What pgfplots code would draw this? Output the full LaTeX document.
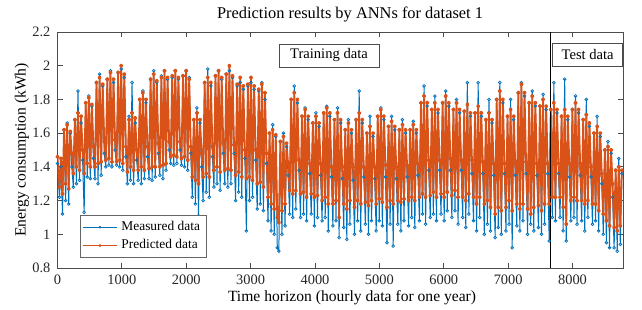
\documentclass[border=0pt]{standalone}
\usepackage{pgfplots}
\pgfplotsset{compat=1.18}
\usepackage{pgfplotstable}
\usepackage{fontspec}
\setmainfont{Liberation Serif}
\definecolor{mblue}{rgb}{0,0.447,0.741}
\definecolor{morange}{rgb}{0.85,0.325,0.098}
\pgfplotstableread{
t m p
0 1.42 1.46
30 1.22 1.28
54 1.40 1.45
78 1.12 1.24
102 1.62 1.62
126 1.20 1.30
150 1.66 1.65
174 1.18 1.27
198 1.60 1.61
222 1.40 1.48
246 1.28 1.36
270 1.68 1.68
294 1.30 1.40
318 1.85 1.72
342 1.32 1.38
366 1.66 1.70
390 1.44 1.50
414 1.13 1.36
438 1.78 1.78
462 1.34 1.42
486 1.82 1.81
510 1.33 1.40
534 1.76 1.77
558 1.45 1.52
582 1.33 1.40
606 1.90 1.90
630 1.30 1.42
654 1.95 1.93
678 1.35 1.43
702 1.88 1.89
726 1.48 1.55
750 1.40 1.44
774 1.92 1.92
798 1.41 1.45
822 1.97 1.96
846 1.40 1.43
870 1.90 1.92
894 1.50 1.56
918 1.41 1.43
942 1.96 1.96
966 1.40 1.44
990 1.98 2.00
1014 1.38 1.42
1038 1.93 1.95
1062 1.46 1.52
1086 1.30 1.37
1110 1.70 1.68
1134 1.32 1.40
1158 1.90 1.72
1182 1.30 1.38
1206 1.66 1.69
1230 1.44 1.50
1254 1.32 1.38
1278 1.80 1.80
1302 1.30 1.40
1326 1.85 1.84
1350 1.33 1.38
1374 1.78 1.80
1398 1.46 1.52
1422 1.33 1.39
1446 1.92 1.92
1470 1.32 1.40
1494 1.97 1.95
1518 1.34 1.40
1542 1.90 1.91
1566 1.48 1.54
1590 1.35 1.40
1614 1.94 1.93
1638 1.33 1.41
1662 1.97 1.97
1686 1.38 1.42
1710 1.92 1.93
1734 1.50 1.55
1758 1.42 1.46
1782 1.93 1.94
1806 1.41 1.47
1830 1.97 1.97
1854 1.42 1.46
1878 1.92 1.93
1902 1.50 1.55
1926 1.41 1.45
1950 1.94 1.94
1974 1.40 1.46
1998 1.97 1.97
2022 1.38 1.44
2046 1.93 1.92
2070 1.48 1.52
2094 1.22 1.34
2118 1.68 1.68
2142 1.18 1.32
2166 1.75 1.72
2190 1.11 1.30
2214 1.66 1.68
2238 1.40 1.48
2262 1.20 1.34
2286 1.90 1.90
2310 1.25 1.36
2334 1.98 1.93
2358 1.22 1.34
2382 1.88 1.90
2406 1.46 1.52
2430 1.28 1.38
2454 1.94 1.94
2478 1.30 1.40
2502 1.97 1.97
2526 1.26 1.37
2550 1.92 1.93
2574 1.48 1.54
2598 1.30 1.38
2622 1.95 1.95
2646 1.28 1.39
2670 1.97 2.00
2694 1.30 1.38
2718 1.93 1.94
2742 1.48 1.53
2766 1.20 1.35
2790 1.88 1.89
2814 1.25 1.37
2838 1.90 1.93
2862 1.22 1.34
2886 1.86 1.88
2910 1.45 1.50
2934 1.02 1.33
2958 1.88 1.89
2982 1.20 1.34
3006 1.90 1.93
3030 1.22 1.32
3054 1.86 1.88
3078 1.44 1.50
3102 1.15 1.30
3126 1.85 1.86
3150 1.18 1.31
3174 1.90 1.89
3198 1.14 1.28
3222 1.80 1.84
3246 1.42 1.48
3270 1.08 1.22
3294 1.60 1.60
3318 1.02 1.18
3342 1.65 1.62
3366 1.00 1.15
3390 1.58 1.59
3414 0.92 1.10
3438 0.90 1.07
3462 1.55 1.55
3486 1.00 1.14
3510 1.60 1.58
3534 1.05 1.18
3558 1.52 1.54
3582 1.35 1.42
3606 1.12 1.26
3630 1.80 1.80
3654 1.10 1.24
3678 1.88 1.84
3702 1.15 1.26
3726 1.78 1.80
3750 1.38 1.44
3774 1.10 1.24
3798 1.70 1.70
3822 1.12 1.25
3846 1.75 1.74
3870 1.08 1.22
3894 1.68 1.70
3918 1.36 1.42
3942 1.12 1.24
3966 1.66 1.66
3990 1.05 1.22
4014 1.72 1.70
4038 1.10 1.23
4062 1.64 1.66
4086 1.35 1.42
4110 1.08 1.20
4134 1.72 1.72
4158 1.10 1.22
4182 1.76 1.75
4206 1.02 1.18
4230 1.70 1.72
4254 1.34 1.40
4278 1.05 1.18
4302 1.68 1.68
4326 1.08 1.20
4350 1.75 1.72
4374 0.98 1.10
4398 1.66 1.68
4422 1.33 1.40
4446 1.04 1.18
4470 1.62 1.62
4494 0.97 1.15
4518 1.68 1.66
4542 1.06 1.20
4566 1.60 1.62
4590 1.32 1.40
4614 1.00 1.16
4638 1.68 1.68
4662 1.08 1.20
4686 1.85 1.72
4710 1.02 1.18
4734 1.66 1.68
4758 1.34 1.40
4782 1.06 1.19
4806 1.60 1.60
4830 1.00 1.17
4854 1.70 1.64
4878 1.08 1.20
4902 1.58 1.60
4926 1.33 1.40
4950 1.02 1.18
4974 1.70 1.70
4998 1.08 1.21
5022 1.75 1.74
5046 1.05 1.19
5070 1.68 1.70
5094 1.34 1.41
5118 0.95 1.16
5142 1.64 1.64
5166 1.06 1.20
5190 1.70 1.67
5214 0.93 1.18
5238 1.62 1.64
5262 1.33 1.40
5286 1.06 1.20
5310 1.62 1.62
5334 1.02 1.19
5358 1.68 1.65
5382 1.08 1.21
5406 1.60 1.62
5430 1.34 1.41
5454 1.05 1.20
5478 1.62 1.62
5502 1.10 1.22
5526 1.67 1.65
5550 1.04 1.20
5574 1.60 1.62
5598 1.35 1.42
5622 1.08 1.22
5646 1.78 1.78
5670 1.12 1.24
5694 1.88 1.82
5718 1.06 1.22
5742 1.76 1.78
5766 1.38 1.44
5790 1.10 1.23
5814 1.74 1.74
5838 1.12 1.25
5862 1.82 1.78
5886 1.08 1.22
5910 1.72 1.74
5934 1.38 1.44
5958 1.12 1.24
5982 1.78 1.78
6006 1.08 1.22
6030 1.85 1.82
6054 1.14 1.25
6078 1.76 1.78
6102 1.38 1.45
6126 1.10 1.23
6150 1.74 1.74
6174 1.14 1.26
6198 1.80 1.78
6222 1.06 1.22
6246 1.72 1.74
6270 1.38 1.44
6294 1.10 1.22
6318 1.73 1.73
6342 1.04 1.20
6366 1.90 1.77
6390 1.12 1.24
6414 1.70 1.72
6438 1.36 1.44
6462 1.08 1.22
6486 1.72 1.72
6510 1.02 1.18
6534 1.90 1.76
6558 1.10 1.22
6582 1.70 1.72
6606 1.36 1.43
6630 1.00 1.18
6654 1.68 1.68
6678 1.06 1.20
6702 1.80 1.72
6726 1.02 1.16
6750 1.66 1.68
6774 1.35 1.42
6798 0.98 1.12
6822 1.80 1.80
6846 1.04 1.16
6870 1.90 1.85
6894 1.00 1.14
6918 1.78 1.80
6942 1.36 1.42
6966 1.02 1.16
6990 1.70 1.70
7014 1.06 1.20
7038 1.80 1.74
7062 0.92 1.14
7086 1.68 1.70
7110 1.35 1.42
7134 1.05 1.18
7158 1.84 1.84
7182 1.02 1.15
7206 1.90 1.89
7230 1.08 1.18
7254 1.82 1.84
7278 1.36 1.43
7302 1.00 1.15
7326 1.78 1.78
7350 1.06 1.12
7374 1.85 1.82
7398 1.02 1.16
7422 1.76 1.78
7446 1.35 1.42
7470 1.04 1.17
7494 1.76 1.76
7518 1.00 1.14
7542 1.83 1.80
7566 1.06 1.18
7590 1.74 1.76
7614 1.36 1.42
7638 0.96 1.18
7662 1.74 1.74
7686 1.10 1.22
7710 1.90 1.78
7734 1.08 1.22
7758 1.72 1.74
7782 1.36 1.42
7806 1.10 1.22
7830 1.70 1.70
7854 1.02 1.16
7878 1.92 1.74
7902 0.96 1.06
7926 1.68 1.70
7950 1.34 1.42
7974 1.08 1.20
7998 1.74 1.74
8022 1.10 1.22
8046 1.82 1.78
8070 1.06 1.20
8094 1.72 1.74
8118 1.35 1.42
8142 1.08 1.20
8166 1.68 1.68
8190 1.02 1.18
8214 1.80 1.71
8238 1.10 1.20
8262 1.64 1.66
8286 1.34 1.40
8310 1.06 1.18
8334 1.60 1.60
8358 1.08 1.18
8382 1.70 1.64
8406 1.02 1.14
8430 1.58 1.60
8454 1.30 1.36
8478 1.00 1.12
8502 1.50 1.50
8526 0.95 1.08
8550 1.55 1.52
8574 0.92 1.05
8598 1.48 1.50
8622 1.22 1.30
8646 0.92 1.04
8670 1.38 1.38
8694 0.90 1.02
8718 1.45 1.40
8742 0.94 1.05
8766 1.36 1.38
}\data
\begin{document}
\begin{tikzpicture}
\begin{axis}[
  scale only axis,
  width=282.75pt, height=118pt,
  xmin=0, xmax=8784, ymin=0.8, ymax=2.2,
  xtick={0,1000,2000,3000,4000,5000,6000,7000,8000},
  ytick={0.8,1,1.2,1.4,1.6,1.8,2,2.2},
  yticklabels={0.8,1,1.2,1.4,1.6,1.8,2,2.2},
  /pgf/number format/1000 sep={},
  /pgf/number format/assume math mode=true,
  tick label style={font=\fontsize{7.2}{8}\selectfont, text=black!85},
  tick align=inside, xtick pos=both, ytick pos=both,
  major tick length=2.5pt,
  axis line style={black!70, line width=0.4pt},
  every tick/.style={black!70, line width=0.4pt},
  title={Prediction results by ANNs for dataset 1},
  title style={font=\fontsize{8.2}{9}\selectfont, anchor=center, yshift=2.5pt, xshift=4.9pt},
  xlabel={Time horizon (hourly data for one year)},
  xlabel style={font=\fontsize{7.8}{9}\selectfont, at={(0.5,0)}, anchor=center, yshift=-15pt, xshift=5.9pt},
  ylabel={Energy consumption (kWh)},
  ylabel style={font=\fontsize{7.8}{9}\selectfont, at={(0,0.5)}, anchor=center, yshift=17.75pt},
  legend style={at={(0.04,0.042)}, anchor=south west, font=\fontsize{6.7}{7.5}\selectfont, draw=black!60, line width=0.4pt, inner sep=1pt, row sep=-1pt},
  legend cell align=left,
  legend image post style={line width=0.4pt, mark size=0.5pt},
]
\addplot[mblue, line width=0.5pt, mark=o, mark size=0.7pt, mark options={line width=0.35pt}] table[x=t, y=m] {\data};
\addlegendentry{Measured data}
\addplot[morange, line width=0.9pt, line join=round, mark=*, mark size=0.6pt] table[x=t, y=p] {\data};
\addlegendentry{Predicted data}
\addplot[black, line width=0.5pt, forget plot] coordinates {(7661,0.8) (7661,2.2)};
\node[draw=black!70, fill=white, line width=0.4pt, minimum width=50pt, minimum height=11.5pt, inner sep=0pt, font=\fontsize{7.3}{8}\selectfont] at (axis cs:4217,2.061) {Training data};
\node[draw=black!70, fill=white, line width=0.4pt, minimum width=35pt, minimum height=11.8pt, inner sep=0pt, font=\fontsize{7.3}{8}\selectfont] at (axis cs:8235,2.064) {Test data};
\coordinate (bl) at (rel axis cs:0,0);
\coordinate (tr) at (rel axis cs:1,1);
\end{axis}
\pgfresetboundingbox
\path ([shift={(-28.75pt,-20.5pt)}]bl) rectangle ([shift={(9.5pt,16pt)}]tr);
\end{tikzpicture}
\end{document}
